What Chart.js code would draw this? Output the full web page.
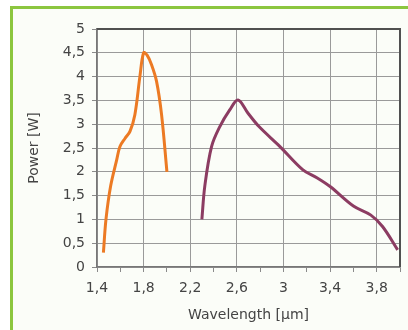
<!DOCTYPE html>
<html>
<head>
<meta charset="utf-8">
<script src="https://cdn.jsdelivr.net/npm/chart.js@4.4.1/dist/chart.umd.min.js"></script>
<style>
  html, body { margin: 0; padding: 0; background: #ffffff; overflow: hidden; width: 408px; height: 330px; }
  .frame {
    position: absolute; left: 10px; top: 6px; width: 398px; height: 324px;
    box-sizing: border-box;
    border-top: 3px solid #8cc63f; border-left: 3px solid #8cc63f;
    background: #fbfdf8;
  }
  #chart { position: absolute; left: 0; top: 0; }
</style>
</head>
<body>
<div class="frame"></div>
<canvas id="chart" width="408" height="330"></canvas>
<script>
// wavelength [um] / power [W]
const orangeX = [1.455, 1.477, 1.517, 1.569, 1.597, 1.64, 1.683, 1.725, 1.768, 1.80, 1.83, 1.868, 1.911, 1.954, 2.0];
const orangeY = [0.3, 1.0, 1.7, 2.25, 2.53, 2.7, 2.85, 3.2, 4.0, 4.5, 4.45, 4.25, 3.9, 3.2, 2.0];
const purpleX = [2.3, 2.325, 2.383, 2.454, 2.539, 2.61, 2.696, 2.79, 2.97, 3.167, 3.29, 3.40, 3.60, 3.75, 3.85, 3.98];
const purpleY = [1.0, 1.7, 2.53, 2.95, 3.3, 3.51, 3.23, 2.95, 2.53, 2.04, 1.87, 1.69, 1.28, 1.09, 0.85, 0.36];

const xTickValues = [1.4, 1.6, 1.8, 2.0, 2.2, 2.4, 2.6, 2.8, 3.0, 3.2, 3.4, 3.6, 3.8, 4.0];
const yTickValues = [0, 0.5, 1, 1.5, 2, 2.5, 3, 3.5, 4, 4.5, 5];

const toPoints = (xs, ys) => xs.map((x, i) => ({ x: x, y: ys[i] }));
const comma = v => String(v).replace('.', ',');
const font = { family: 'DejaVu Sans', size: 14 };

// dark frame on top and right of the plot area
const plotFrame = {
  id: 'plotFrame',
  afterDraw(chart) {
    const { ctx, chartArea: a } = chart;
    ctx.save();
    ctx.strokeStyle = '#505050';
    ctx.lineWidth = 2;
    ctx.beginPath();
    ctx.moveTo(a.left, a.top);
    ctx.lineTo(a.right, a.top);
    ctx.lineTo(a.right, a.bottom);
    ctx.stroke();
    ctx.restore();
  }
};

new Chart(document.getElementById('chart').getContext('2d'), {
  type: 'line',
  data: {
    datasets: [
      { data: toPoints(orangeX, orangeY), borderColor: '#ec7a24', borderWidth: 3, tension: 0.35, pointRadius: 0 },
      { data: toPoints(purpleX, purpleY), borderColor: '#8c3c62', borderWidth: 3, tension: 0.35, pointRadius: 0 }
    ]
  },
  options: {
    responsive: false,
    animation: false,
    layout: { padding: { left: 0, right: 8, top: 29, bottom: 0 } },
    plugins: { legend: { display: false }, tooltip: { enabled: false } },
    scales: {
      x: {
        type: 'linear',
        min: 1.4,
        max: 4.0,
        afterBuildTicks: scale => { scale.ticks = xTickValues.map(v => ({ value: v })); },
        afterFit: scale => { scale.height = 63; },
        grid: {
          color: ctx => (ctx.index % 2 === 0 ? '#9a9a9a' : 'transparent'),
          tickColor: '#8a8a8a',
          tickLength: 5
        },
        border: { color: '#777777', width: 1.5 },
        ticks: {
          autoSkip: false,
          maxRotation: 0,
          padding: 8,
          color: '#444444',
          font: font,
          callback: (v, i) => (i % 2 === 0 ? comma(Math.round(v * 10) / 10) : '')
        },
        title: { display: true, text: 'Wavelength [µm]', color: '#444444', font: font, padding: { top: 0, bottom: 6 } }
      },
      y: {
        min: 0,
        max: 5,
        afterBuildTicks: scale => { scale.ticks = yTickValues.map(v => ({ value: v })); },
        afterFit: scale => { scale.width = 97; },
        grid: { color: '#9a9a9a', tickColor: '#8a8a8a', tickLength: 5 },
        border: { color: '#777777', width: 1.5 },
        ticks: { padding: 7, color: '#444444', font: font, callback: v => comma(v) },
        title: { display: true, text: 'Power [W]', color: '#444444', font: font, padding: { top: 26, bottom: 0 } }
      }
    }
  },
  plugins: [plotFrame]
});
</script>
</body>
</html>
